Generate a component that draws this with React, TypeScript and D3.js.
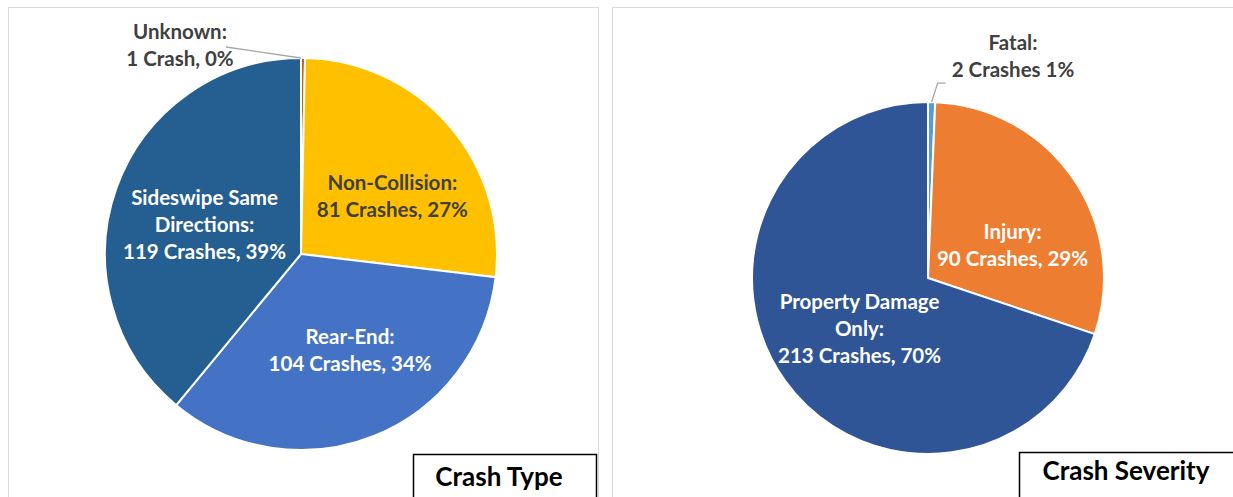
import React from 'react';
import * as d3 from 'd3';

// Crash type
const typeNames = ['Unknown', 'Non-Collision', 'Rear-End', 'Sideswipe Same Directions'];
const typeCounts = [1, 81, 104, 119];
const typeLabels = [
  ['Unknown:', '1 Crash, 0%'],
  ['Non-Collision:', '81 Crashes, 27%'],
  ['Rear-End:', '104 Crashes, 34%'],
  ['Sideswipe Same', 'Directions:', '119 Crashes, 39%'],
];
const typeColors = ['#C55A11', '#FFC000', '#4472C4', '#255E91'];
const typeTextColors = ['#404040', '#404040', '#ffffff', '#ffffff'];

// Crash severity
const sevNames = ['Fatal', 'Injury', 'Property Damage Only'];
const sevCounts = [2, 90, 213];
const sevLabels = [
  ['Fatal:', '2 Crashes 1%'],
  ['Injury:', '90 Crashes, 29%'],
  ['Property Damage', 'Only:', '213 Crashes, 70%'],
];
const sevColors = ['#5B9BD5', '#ED7D31', '#2F5597'];
const sevTextColors = ['#404040', '#ffffff', '#ffffff'];

const FONT = 'Lato, "Open Sans", sans-serif';
const LINE = 27;

type PieProps = {
  names: string[];
  counts: number[];
  labels: string[][];
  colors: string[];
  textColors: string[];
  cx: number;
  cy: number;
  r: number;
  labelFrac: number;
  nudge: number[][];
  outside: { [i: number]: { x: number; y: number; elbow?: boolean } };
};

function Pie({ names, counts, labels, colors, textColors, cx, cy, r, labelFrac, nudge, outside }: PieProps) {
  const pie = d3.pie<number>().sort(null).value((d) => d);
  const arcs = pie(counts);
  const arc = d3.arc<d3.PieArcDatum<number>>().innerRadius(0).outerRadius(r);
  const labelArc = d3
    .arc<d3.PieArcDatum<number>>()
    .innerRadius(r * labelFrac)
    .outerRadius(r * labelFrac);

  return (
    <g transform={`translate(${cx},${cy})`}>
      {arcs.map((a, i) => (
        <path key={names[i]} d={arc(a) || ''} fill={colors[i]} stroke="#fff" strokeWidth={2} />
      ))}
      {arcs.map((a, i) => {
        const lines = labels[i];
        const out = outside[i];
        let x: number, y: number;
        let leader: string | null = null;
        if (out) {
          // label sits outside the pie, joined by a leader line
          const mid = (a.startAngle + a.endAngle) / 2;
          const px = Math.sin(mid) * r;
          const py = -Math.cos(mid) * r;
          x = out.x;
          y = out.y;
          if (out.elbow) {
            leader = `M${px},${py}L${px + 6},${py - 19}L${px + 14},${py - 19}`;
          } else {
            leader = `M${px - 2},${py}L${x + 46},${y + 2}`;
          }
        } else {
          const c = labelArc.centroid(a);
          const n = nudge[i] || [0, 0];
          x = c[0] + n[0];
          y = c[1] + n[1];
        }
        const top = y - ((lines.length - 1) * LINE) / 2;
        return (
          <g key={'l' + i}>
            {leader && <path d={leader} fill="none" stroke="#a6a6a6" strokeWidth={1.3} />}
            <text
              textAnchor="middle"
              fill={textColors[i]}
              fontFamily={FONT}
              fontWeight="bold"
              fontSize={20.5}
            >
              {lines.map((t, j) => (
                <tspan key={j} x={x} y={top + j * LINE} dy="0.35em">
                  {t}
                </tspan>
              ))}
            </text>
          </g>
        );
      })}
    </g>
  );
}

export default function App() {
  return (
    <svg
      width={1233}
      height={497}
      style={{ position: 'absolute', left: 0, top: 0, background: '#fff' }}
    >
      <rect x={8.5} y={7.5} width={590} height={500} fill="#fff" stroke="#d9d9d9" />
      <rect x={612.5} y={7.5} width={640} height={500} fill="#fff" stroke="#d9d9d9" />

      <Pie
        names={typeNames}
        counts={typeCounts}
        labels={typeLabels}
        colors={typeColors}
        textColors={typeTextColors}
        cx={301}
        cy={254}
        r={196}
        labelFrac={0.55}
        nudge={[[0, 0], [10, 13], [9, -4], [5, 7]]}
        outside={{ 0: { x: -121, y: -209 } }}
      />
      <Pie
        names={sevNames}
        counts={sevCounts}
        labels={sevLabels}
        colors={sevColors}
        textColors={sevTextColors}
        cx={928}
        cy={278}
        r={176}
        labelFrac={0.5}
        nudge={[[0, 0], [12, 17], [3, -1]]}
        outside={{ 0: { x: 85, y: -222, elbow: true } }}
      />

      <rect x={413.5} y={454.5} width={183} height={48} fill="#fff" stroke="#000" strokeWidth={1.5} />
      <text x={499} y={477} dy="0.35em" textAnchor="middle" fontFamily={FONT} fontWeight="bold" fontSize={26} fill="#000">
        Crash Type
      </text>
      <rect x={1019.5} y={452.5} width={230} height={50} fill="#fff" stroke="#000" strokeWidth={1.5} />
      <text x={1126} y={471} dy="0.35em" textAnchor="middle" fontFamily={FONT} fontWeight="bold" fontSize={26} fill="#000">
        Crash Severity
      </text>
    </svg>
  );
}
